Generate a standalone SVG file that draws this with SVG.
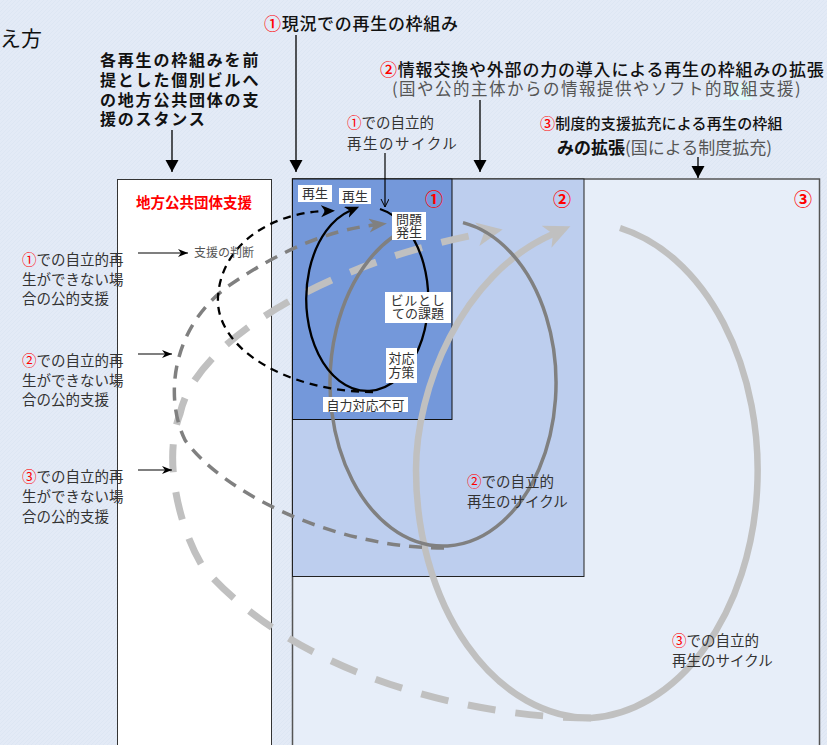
<svg xmlns="http://www.w3.org/2000/svg" width="827" height="745" viewBox="0 0 827 745">
<style>
text { font-family: 'Noto Sans CJK JP', 'Noto Sans CJK SC', sans-serif; }
.red { fill: #ff0000; }
.lbl { fill: #333; font-size: 14.5px; }
.tag { fill: #333; font-size: 13px; text-anchor: middle; }
.wb { fill: #ffffff; stroke: none; }
.ttl { fill: #111; font-weight: 500; }
.sub { fill: #555; font-weight: 400; }
.num { fill: #ff0000; font-weight: 700; font-size: 18px; text-anchor: middle; }
.ar { stroke: #000; stroke-width: 1.3; fill: none; }
</style>
<defs>
<pattern id="bg" width="4" height="4" patternUnits="userSpaceOnUse">
<rect width="4" height="4" fill="#e3eaf6"/>
<path d="M0,4 L4,0" stroke="#d9e2f1" stroke-width="0.6"/>
</pattern>
<marker id="aBig" markerUnits="userSpaceOnUse" markerWidth="13" markerHeight="14" refX="12" refY="6.5" orient="auto"><path d="M0,0 L12,6.5 L0,13 z" fill="#000"/></marker>
<marker id="aSm" markerUnits="userSpaceOnUse" markerWidth="11" markerHeight="9" refX="10" refY="4" orient="auto"><path d="M0,0 L10,4 L0,8 L3,4 z" fill="#000"/></marker>
<marker id="aThin" markerUnits="userSpaceOnUse" markerWidth="10" markerHeight="10" refX="8" refY="4" orient="auto"><path d="M0,0 L8,4 L0,8" fill="none" stroke="#000" stroke-width="1"/></marker>
<marker id="aBlk" markerUnits="userSpaceOnUse" markerWidth="15" markerHeight="13" refX="4" refY="6" orient="auto"><path d="M0,0 L14,6 L0,12 L4,6 z" fill="#000"/></marker>
<marker id="aGry" markerUnits="userSpaceOnUse" markerWidth="19" markerHeight="15" refX="5" refY="7" orient="auto"><path d="M0,0 L18,7 L0,14 L5,7 z" fill="#808080"/></marker>
<marker id="aLgt" markerUnits="userSpaceOnUse" markerWidth="27" markerHeight="25" refX="7" refY="12" orient="auto"><path d="M0,0 L26,12 L0,24 L7,12 z" fill="#c0c0c0"/></marker>
</defs>

<rect x="0" y="0" width="827" height="745" fill="url(#bg)"/>

<g id="title-cut">
<text x="0" y="46" font-size="21" fill="#111">え方</text>
</g>

<g id="support-box">
<rect x="117.5" y="179.5" width="154" height="580" fill="#ffffff" stroke="#333" stroke-width="1"/>
<text x="194" y="208" font-size="14.5" font-weight="700" fill="#ff0000" text-anchor="middle">地方公共団体支援</text>
</g>

<g id="frame3">
<rect x="292.5" y="179" width="527" height="580" fill="#e7eef9" stroke="#555" stroke-width="1.5"/>
<text x="803" y="206" class="num">③</text>
</g>
<g id="frame2">
<rect x="292.5" y="179" width="291.5" height="397.5" fill="#bdceee" stroke="#222" stroke-width="1"/>
<text x="562" y="206" class="num">②</text>
</g>
<g id="frame1">
<rect x="292.5" y="179" width="159.5" height="240.5" fill="#7498da" stroke="#111" stroke-width="1"/>
<text x="434" y="206" class="num">①</text>
</g>

<g id="connectors">
<path d="M591,718 C480,718 300,680 203,567 C180,530 162,460 180,414 C195,340 330,262 484,233" fill="none" stroke="#c0c0c0" stroke-width="7" stroke-dasharray="28 20" marker-end="url(#aLgt)"/>
<path d="M620,228 A175,248 0 0 1 591,718 A175,248 0 0 1 416,470 C416,390 460,275 553,234" fill="none" stroke="#c0c0c0" stroke-width="6.5" marker-end="url(#aLgt)"/>
<path d="M444,548 C330,548 220,490 185,440 C165,400 170,330 227,287 C280,250 330,230 374,225" fill="none" stroke="#808080" stroke-width="3.5" stroke-dasharray="13 9" marker-end="url(#aGry)"/>
<path d="M463,222.6 A113,163 0 1 1 414,225.5" fill="none" stroke="#808080" stroke-width="3.5" marker-end="url(#aGry)"/>
<path d="M373,392 C290,392 215,350 218,297 C221,245 270,213 325,211" fill="none" stroke="#000" stroke-width="2.3" stroke-dasharray="8 6" marker-end="url(#aBlk)"/>
<path d="M380,209 A61,92 0 1 1 350,210.7" fill="none" stroke="#000" stroke-width="2.3" marker-end="url(#aBlk)"/>
<line x1="172" y1="130" x2="172" y2="172" class="ar" marker-end="url(#aBig)"/>
<line x1="296" y1="35" x2="296" y2="172" class="ar" marker-end="url(#aBig)"/>
<line x1="480" y1="100" x2="480" y2="172" class="ar" marker-end="url(#aBig)"/>
<line x1="698" y1="157" x2="698" y2="178" class="ar" marker-end="url(#aBig)"/>
<line x1="385" y1="153" x2="385" y2="207" stroke="#000" stroke-width="1.2" marker-end="url(#aThin)"/>
<line x1="138" y1="253" x2="188" y2="253" stroke="#000" stroke-width="1.2" marker-end="url(#aSm)"/>
<line x1="138" y1="354" x2="172" y2="354" stroke="#000" stroke-width="1.2" marker-end="url(#aSm)"/>
<line x1="138" y1="470" x2="172" y2="470" stroke="#000" stroke-width="1.2" marker-end="url(#aSm)"/>
</g>

<g id="label-saisei1">
<rect x="298" y="185" width="34" height="17" class="wb"/>
<text x="315" y="198" class="tag" font-size="12.5">再生</text>
</g>
<g id="label-saisei2">
<rect x="339" y="188" width="32" height="16" class="wb"/>
<text x="355" y="201" class="tag" font-size="12.5">再生</text>
</g>
<g id="label-mondai">
<rect x="392" y="212" width="34" height="28" class="wb"/>
<text x="409" y="223.5" class="tag" font-size="13">問題</text>
<text x="409" y="236.5" class="tag" font-size="13">発生</text>
</g>
<g id="label-kadai">
<rect x="385" y="292" width="66" height="31" class="wb"/>
<text x="418" y="304.5" class="tag" font-size="12" letter-spacing="0.8">ビルとし</text>
<text x="418" y="317.5" class="tag" font-size="12.5">ての課題</text>
</g>
<g id="label-housaku">
<rect x="386" y="348" width="31" height="35" class="wb"/>
<text x="401.5" y="363" class="tag" font-size="13.5">対応</text>
<text x="401.5" y="377" class="tag" font-size="13.5">方策</text>
</g>
<g id="label-fuka">
<rect x="323" y="397" width="85" height="15" class="wb"/>
<text x="365.5" y="410" class="tag">自力対応不可</text>
</g>

<g id="label-handan">
<text x="194" y="257" font-size="12" fill="#555">支援の判断</text>
</g>

<g id="title-stance">
<text x="100" y="66" font-size="16" font-weight="700" letter-spacing="1.8" fill="#111">各再生の枠組みを前</text>
<text x="100" y="86" font-size="16" font-weight="700" letter-spacing="1.8" fill="#111">提とした個別ビルへ</text>
<text x="100" y="105.5" font-size="16" font-weight="700" letter-spacing="1.8" fill="#111">の地方公共団体の支</text>
<text x="100" y="125" font-size="16" font-weight="700" letter-spacing="1.8" fill="#111">援のスタンス</text>
</g>

<g id="title-1">
<text x="264" y="29.5" font-size="17" letter-spacing="0.7" class="ttl"><tspan class="red">①</tspan>現況での再生の枠組み</text>
</g>

<g id="title-2">
<rect x="728" y="83" width="24" height="17" fill="#e0fafa"/>
<text x="380" y="76" font-size="17" letter-spacing="0.8" class="ttl"><tspan class="red">②</tspan>情報交換や外部の力の導入による再生の枠組みの拡張</text>
<text x="392" y="95" font-size="16.5" letter-spacing="1.5" class="sub">(国や公的主体からの情報提供やソフト的取組支援)</text>
</g>

<g id="title-3">
<text x="540" y="129" font-size="15" class="ttl" letter-spacing="0.2"><tspan class="red">③</tspan>制度的支援拡充による再生の枠組</text>
<text x="557" y="153.5" font-size="17"><tspan font-weight="700" fill="#111">みの拡張</tspan><tspan fill="#555">(国による制度拡充)</tspan></text>
</g>

<g id="label-cycle1">
<text x="347" y="127.5" class="lbl" font-size="14.5"><tspan class="red">①</tspan>での自立的</text>
<text x="347" y="148.5" class="lbl" font-size="14.5" letter-spacing="1.5">再生のサイクル</text>
</g>

<g id="label-public1">
<text x="22" y="265" class="lbl"><tspan class="red">①</tspan>での自立的再</text>
<text x="22" y="285" class="lbl">生ができない場</text>
<text x="22" y="304" class="lbl">合の公的支援</text>
</g>
<g id="label-public2">
<text x="22" y="366" class="lbl"><tspan class="red">②</tspan>での自立的再</text>
<text x="22" y="386" class="lbl">生ができない場</text>
<text x="22" y="405" class="lbl">合の公的支援</text>
</g>
<g id="label-public3">
<text x="22" y="482" class="lbl"><tspan class="red">③</tspan>での自立的再</text>
<text x="22" y="502" class="lbl">生ができない場</text>
<text x="22" y="521.5" class="lbl">合の公的支援</text>
</g>

<g id="label-cycle2">
<text x="467" y="487" class="lbl"><tspan class="red">②</tspan>での自立的</text>
<text x="467" y="507" class="lbl">再生のサイクル</text>
</g>
<g id="label-cycle3">
<text x="672" y="646" class="lbl"><tspan class="red">③</tspan>での自立的</text>
<text x="672" y="665.5" class="lbl">再生のサイクル</text>
</g>
</svg>
